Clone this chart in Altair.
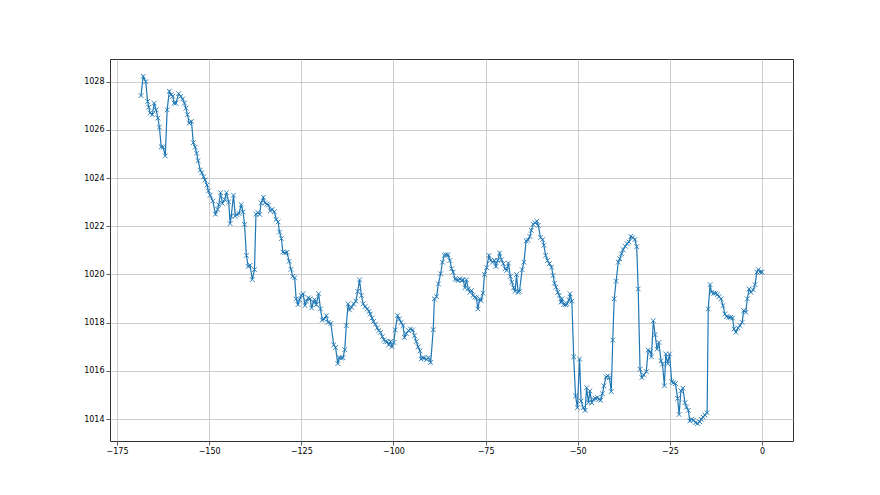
import altair as alt
import pandas as pd

# hours relative to now
hours = [
    -168.5, -167.9, -167.2, -166.7, -166.4, -166.0, -165.4, -164.9, -164.4, -163.9,
    -163.5, -163.0, -162.5, -161.9, -161.4, -160.8, -160.3, -159.9, -159.5, -159.0,
    -158.3, -157.7, -157.2, -156.7, -156.3, -155.9, -155.4, -154.8, -154.3, -153.8,
    -153.4, -153.0, -152.4, -152.0, -151.5, -151.1, -150.6, -150.2, -149.7, -149.0,
    -148.3, -147.7, -147.4, -146.9, -146.4, -145.8, -145.3, -144.7, -144.3, -144.0,
    -143.4, -142.9, -142.5, -141.9, -141.3, -140.8, -140.4, -139.9, -139.4, -138.9,
    -138.3, -137.7, -137.3, -136.8, -136.3, -135.9, -135.3, -134.9, -134.3, -133.9,
    -133.4, -132.9, -132.3, -131.8, -131.3, -130.9, -130.4, -130.0, -129.5, -128.9,
    -128.3, -127.8, -127.3, -126.8, -126.4, -125.9, -125.5, -125.0, -124.5, -124.0,
    -123.6, -123.1, -122.6, -122.2, -121.7, -121.4, -120.9, -120.3, -119.8, -119.3,
    -118.8, -118.2, -117.7, -117.0, -116.2, -115.7, -115.1, -114.7, -114.1, -113.7,
    -113.2, -112.8, -112.3, -111.9, -111.4, -110.8, -110.2, -109.7, -109.2, -108.7,
    -108.2, -107.7, -107.1, -106.6, -106.3, -105.8, -105.4, -104.9, -104.4, -104.0,
    -103.5, -103.0, -102.6, -102.2, -101.7, -101.3, -100.8, -100.4, -99.9, -99.5,
    -98.9, -98.4, -97.9, -97.4, -97.0, -96.5, -95.9, -95.4, -94.8, -94.3,
    -93.8, -93.3, -92.8, -92.5, -92.0, -91.6, -91.0, -90.5, -89.9, -89.2,
    -88.9, -88.3, -87.8, -87.2, -86.7, -86.2, -85.8, -85.2, -84.7, -84.2,
    -83.8, -83.3, -82.9, -82.4, -82.0, -81.5, -81.1, -80.6, -80.2, -79.7,
    -79.3, -78.8, -78.4, -77.9, -77.5, -77.1, -76.6, -76.2, -75.7, -75.3,
    -74.7, -74.1, -73.6, -73.1, -72.6, -72.2, -71.7, -71.2, -70.7, -70.2,
    -69.7, -69.3, -68.8, -68.3, -67.9, -67.4, -67.0, -66.6, -66.2, -65.8,
    -65.1, -64.6, -64.0, -63.5, -63.0, -62.6, -62.1, -61.6, -61.1, -60.7,
    -60.1, -59.5, -59.2, -58.7, -58.2, -57.7, -57.1, -56.7, -56.3, -55.9,
    -55.4, -55.0, -54.6, -54.3, -53.8, -53.3, -52.9, -52.4, -52.1, -51.6,
    -51.1, -50.6, -50.1, -49.5, -49.1, -48.5, -48.0, -47.6, -47.1, -46.7,
    -46.2, -45.7, -45.2, -44.6, -44.2, -43.8, -43.3, -42.9, -42.3, -41.8,
    -41.4, -40.9, -40.5, -40.1, -39.6, -39.0, -38.6, -38.1, -37.7, -37.1,
    -36.6, -36.1, -35.6, -35.1, -34.5, -34.0, -33.6, -33.1, -32.6, -32.1,
    -31.4, -30.9, -30.3, -30.0, -29.5, -29.0, -28.5, -28.0, -27.4, -27.0,
    -26.5, -26.1, -25.6, -25.1, -24.5, -24.0, -23.5, -22.9, -22.5, -22.0,
    -21.5, -20.9, -20.5, -20.0, -19.6, -19.1, -18.6, -18.0, -17.5, -16.9,
    -16.5, -16.0, -15.5, -14.9, -14.6, -14.1, -13.7, -13.1, -12.6, -12.1,
    -11.7, -11.1, -10.6, -10.1, -9.6, -9.0, -8.5, -8.0, -7.6, -7.1,
    -6.5, -6.0, -5.4, -5.0, -4.4, -4.0, -3.5, -3.0, -2.4, -1.9,
    -1.4, -1.0, -0.5, 0.0,
]

# pressure readings
pressure = [
    1027.42, 1028.22, 1028.00, 1027.18, 1026.94, 1026.70, 1026.63, 1027.11, 1026.83, 1026.49,
    1026.11, 1025.30, 1025.28, 1024.92, 1026.83, 1027.60, 1027.46, 1027.39, 1027.11, 1027.11,
    1027.50, 1027.39, 1027.28, 1027.11, 1026.90, 1026.63, 1026.28, 1026.35, 1025.47, 1025.28,
    1025.03, 1024.72, 1024.33, 1024.22, 1024.05, 1023.92, 1023.71, 1023.47, 1023.29, 1023.05,
    1022.50, 1022.70, 1022.89, 1023.39, 1022.95, 1023.11, 1023.39, 1023.01, 1022.11, 1022.42,
    1023.29, 1022.42, 1022.49, 1022.53, 1022.90, 1022.60, 1022.08, 1020.79, 1020.33, 1020.38,
    1019.79, 1020.20, 1022.50, 1022.57, 1022.49, 1022.97, 1023.20, 1022.97, 1022.92, 1022.88,
    1022.64, 1022.70, 1022.60, 1022.28, 1022.18, 1021.76, 1021.49, 1020.93, 1020.90, 1020.92,
    1020.55, 1020.21, 1019.92, 1019.86, 1018.99, 1018.75, 1018.95, 1019.13, 1019.20, 1018.71,
    1018.89, 1019.03, 1018.99, 1018.61, 1018.85, 1018.95, 1018.75, 1019.20, 1018.57, 1018.11,
    1018.15, 1018.29, 1018.01, 1017.97, 1017.08, 1016.97, 1016.30, 1016.55, 1016.53, 1016.55,
    1016.88, 1017.88, 1018.78, 1018.53, 1018.64, 1018.78, 1018.89, 1019.30, 1019.78, 1019.13,
    1018.78, 1018.67, 1018.57, 1018.47, 1018.36, 1018.19, 1018.05, 1017.94, 1017.78, 1017.67,
    1017.60, 1017.42, 1017.29, 1017.22, 1017.21, 1017.08, 1017.22, 1017.00, 1017.18, 1017.70,
    1018.29, 1018.15, 1018.01, 1017.88, 1017.39, 1017.55, 1017.67, 1017.74, 1017.70, 1017.46,
    1017.22, 1017.00, 1016.83, 1016.49, 1016.55, 1016.53, 1016.47, 1016.55, 1016.35, 1017.71,
    1018.99, 1019.08, 1019.61, 1020.03, 1020.51, 1020.79, 1020.82, 1020.82, 1020.58, 1020.24,
    1020.10, 1019.82, 1019.78, 1019.75, 1019.82, 1019.75, 1019.78, 1019.45, 1019.78, 1019.40,
    1019.26, 1019.33, 1019.13, 1019.06, 1019.03, 1018.57, 1018.99, 1018.92, 1019.22, 1020.00,
    1020.28, 1020.79, 1020.58, 1020.51, 1020.58, 1020.33, 1020.58, 1020.89, 1020.61, 1020.45,
    1020.24, 1020.17, 1020.47, 1019.92, 1019.68, 1019.45, 1019.30, 1020.00, 1019.26, 1019.30,
    1020.20, 1020.51, 1021.39, 1021.42, 1021.58, 1021.83, 1022.08, 1022.14, 1022.21, 1022.04,
    1021.53, 1021.45, 1021.21, 1020.79, 1020.58, 1020.45, 1020.30, 1019.96, 1019.64, 1019.47,
    1019.26, 1019.13, 1018.85, 1018.99, 1018.75, 1018.75, 1018.78, 1018.95, 1019.20, 1018.89,
    1016.58, 1014.96, 1014.47, 1016.49, 1014.75, 1014.47, 1014.36, 1015.30, 1014.68, 1015.17,
    1014.68, 1014.82, 1014.86, 1014.89, 1014.82, 1014.78, 1015.05, 1015.38, 1015.75, 1015.79,
    1015.72, 1015.14, 1017.28, 1018.99, 1019.72, 1020.51, 1020.65, 1020.86, 1021.03, 1021.17,
    1021.28, 1021.35, 1021.58, 1021.53, 1021.45, 1021.15, 1019.40, 1016.07, 1015.72, 1015.83,
    1015.97, 1016.86, 1016.80, 1016.58, 1018.08, 1017.50, 1016.90, 1017.18, 1016.42, 1016.28,
    1015.38, 1016.70, 1016.30, 1016.70, 1015.55, 1015.51, 1015.47, 1014.86, 1014.19, 1015.17,
    1015.28, 1014.68, 1014.50, 1014.36, 1013.92, 1013.99, 1013.95, 1013.85, 1013.81, 1013.89,
    1013.99, 1014.08, 1014.17, 1014.26, 1018.57, 1019.58, 1019.26, 1019.22, 1019.22, 1019.17,
    1019.08, 1018.99, 1018.71, 1018.36, 1018.25, 1018.22, 1018.22, 1018.19, 1017.74, 1017.60,
    1017.78, 1017.88, 1018.01, 1018.50, 1018.43, 1018.99, 1019.40, 1019.26, 1019.36, 1019.58,
    1020.10, 1020.20, 1020.10, 1020.10,
]

x_ticks = [-175, -150, -125, -100, -75, -50, -25, 0]
y_ticks = [1014, 1016, 1018, 1020, 1022, 1024, 1026, 1028]

df = pd.DataFrame({"t": hours, "p": pressure})

color = "#1f77b4"

x_enc = alt.X("t:Q", scale=alt.Scale(domain=[-176.9, 8.4], nice=False, zero=False),
              axis=alt.Axis(values=x_ticks, title=None, format="d"))
y_enc = alt.Y("p:Q", scale=alt.Scale(domain=[1013.09, 1028.94], nice=False, zero=False),
              axis=alt.Axis(values=y_ticks, title=None, format="d"))

line = alt.Chart(df).mark_line(color=color, strokeWidth=1.2).encode(x=x_enc, y=y_enc)
pts = alt.Chart(df).mark_point(
    shape="M-1,-1L1,1M-1,1L1,-1", color=color, filled=False, size=22, strokeWidth=0.9, opacity=1
).encode(x=x_enc, y=y_enc)

chart = alt.layer(line, pts).properties(
    width=683, height=382,
    padding={"left": 102, "top": 51, "right": 10, "bottom": 40},
    autosize=alt.AutoSizeParams(type="none"),
    background="white",
).configure_view(
    stroke="#333333", strokeWidth=1
).configure_axis(
    domain=False,
    grid=True, gridColor="#c0c0c0", gridWidth=0.8, gridOpacity=1,
    ticks=True, tickColor="#333333", tickSize=4, tickWidth=0.8,
    labelColor="black", labelFont="DejaVu Sans", labelFontSize=8, labelPadding=2,
)

chart.save("out.html", embed_options={"renderer": "svg", "actions": False})
